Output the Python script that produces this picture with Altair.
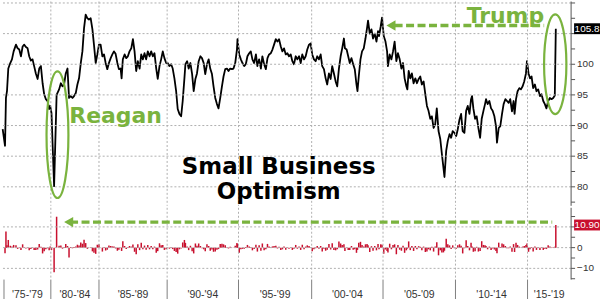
import altair as alt
import pandas as pd

# ---- data ----
dates = [
    1974.86, 1975.11, 1975.21, 1975.32, 1975.46, 1975.67, 1975.85, 1976.03, 1976.28, 1976.46,
    1976.63, 1976.81, 1976.99, 1977.16, 1977.34, 1977.52, 1977.69, 1977.87, 1978.05, 1978.22,
    1978.40, 1978.59, 1978.76, 1978.94, 1979.12, 1979.29, 1979.47, 1979.65, 1979.82, 1979.93,
    1980.07, 1980.34, 1980.60, 1980.86, 1981.04, 1981.21, 1981.38, 1981.55, 1981.73, 1981.89,
    1982.07, 1982.25, 1982.41, 1982.59, 1982.76, 1982.93, 1983.11, 1983.28, 1983.45, 1983.62,
    1983.80, 1983.96, 1984.14, 1984.32, 1984.48, 1984.66, 1984.83,
    1985.00, 1985.12, 1985.25, 1985.37, 1985.49, 1985.61, 1985.73, 1985.86, 1985.98, 1986.10,
    1986.22, 1986.35, 1986.46, 1986.59, 1986.66, 1986.75, 1986.88, 1987.00, 1987.12, 1987.24,
    1987.37, 1987.49, 1987.61, 1987.73, 1987.85, 1987.98, 1988.10, 1988.22, 1988.34, 1988.46,
    1988.58, 1988.71, 1988.83, 1988.95, 1989.07, 1989.20, 1989.31, 1989.44, 1989.56, 1989.68,
    1989.80, 1989.93,
    1990.04, 1990.16, 1990.28, 1990.39, 1990.51, 1990.63, 1990.74, 1990.86, 1990.98, 1991.09,
    1991.21, 1991.28, 1991.40, 1991.51, 1991.63, 1991.75, 1991.86, 1991.98, 1992.09, 1992.21,
    1992.33, 1992.44, 1992.56, 1992.67, 1992.79, 1992.91, 1993.02, 1993.14, 1993.25, 1993.37,
    1993.49, 1993.60, 1993.72, 1993.84, 1993.95, 1994.07, 1994.19, 1994.30, 1994.42, 1994.54,
    1994.65, 1994.77, 1994.89, 1994.93,
    1995.05, 1995.16, 1995.27, 1995.39, 1995.50, 1995.61, 1995.73, 1995.84, 1995.95, 1996.07,
    1996.19, 1996.29, 1996.41, 1996.53, 1996.63, 1996.75, 1996.87, 1996.98, 1997.09, 1997.21,
    1997.32, 1997.43, 1997.55, 1997.66, 1997.77, 1997.89, 1998.00, 1998.11, 1998.23, 1998.34,
    1998.45, 1998.57, 1998.68, 1998.79, 1998.91, 1999.02, 1999.14, 1999.25, 1999.36, 1999.48,
    1999.59, 1999.70, 1999.82, 1999.93,
    2000.04, 2000.16, 2000.28, 2000.39, 2000.51, 2000.63, 2000.74, 2000.86, 2000.98, 2001.09,
    2001.21, 2001.33, 2001.44, 2001.56, 2001.68, 2001.79, 2001.91, 2002.03, 2002.14, 2002.26,
    2002.33, 2002.45, 2002.56, 2002.67, 2002.79, 2002.91, 2003.02, 2003.14, 2003.21, 2003.30,
    2003.42, 2003.53, 2003.65, 2003.77, 2003.88, 2003.95, 2004.07, 2004.19, 2004.30, 2004.42,
    2004.54, 2004.65, 2004.72, 2004.84, 2004.93,
    2005.05, 2005.17, 2005.28, 2005.34, 2005.46, 2005.58, 2005.69, 2005.80, 2005.92, 2006.03,
    2006.15, 2006.27, 2006.38, 2006.49, 2006.61, 2006.68, 2006.77, 2006.88, 2006.99, 2007.11,
    2007.23, 2007.34, 2007.46, 2007.57, 2007.68, 2007.80, 2007.92, 2008.03, 2008.14, 2008.26,
    2008.37, 2008.49, 2008.60, 2008.71, 2008.83, 2008.95, 2009.06, 2009.17, 2009.24, 2009.36,
    2009.47, 2009.59, 2009.70, 2009.81, 2009.93,
    2010.05, 2010.16, 2010.28, 2010.39, 2010.50, 2010.62, 2010.74, 2010.85, 2010.97, 2011.08,
    2011.15, 2011.24, 2011.36, 2011.47, 2011.59, 2011.71, 2011.82, 2011.94, 2012.05, 2012.12,
    2012.23, 2012.35, 2012.47, 2012.58, 2012.70, 2012.81, 2012.88, 2013.00, 2013.11, 2013.23,
    2013.34, 2013.46, 2013.58, 2013.69, 2013.80, 2013.92, 2014.03, 2014.10, 2014.20, 2014.31,
    2014.43, 2014.54, 2014.66, 2014.77, 2014.89, 2014.96,
    2015.07, 2015.17, 2015.28, 2015.39, 2015.51, 2015.62, 2015.74, 2015.86, 2015.97, 2016.09,
    2016.20, 2016.31, 2016.43, 2016.55, 2016.66, 2016.78, 2016.89, 2016.96,
]
values = [
    89.4, 86.7, 94.5, 95.6, 99.3, 100.2, 100.8, 102.1, 103.2, 102.6,
    102.4, 101.3, 102.9, 103.2, 102.8, 102.6, 101.3, 100.6, 100.8, 99.7,
    98.5, 97.6, 99.3, 99.7, 96.9, 95.1, 94.3, 94.0, 92.7, 93.2,
    92.0, 80.1, 95.0, 95.9, 96.9, 96.4, 96.7, 98.5, 99.3, 94.5,
    94.8, 94.5, 94.8, 95.3, 96.7, 97.7, 100.2, 102.1, 105.9, 108.1,
    107.5, 107.3, 107.5, 105.7, 103.2, 100.2, 101.6,
    103.2, 103.2, 101.3, 101.6, 100.2, 99.2, 100.2, 101.0, 101.6, 102.1,
    101.7, 100.2, 99.2, 99.3, 97.7, 100.8, 101.6, 101.0, 101.3, 102.1,
    102.6, 104.1, 102.1, 98.9, 100.5, 99.3, 101.6, 100.8, 101.8, 100.8,
    102.1, 101.3, 102.1, 101.3, 101.8, 99.3, 97.6, 99.7, 100.8, 102.1,
    101.0, 100.2,
    100.2, 99.7, 100.0, 99.3, 97.7, 95.6, 92.7, 91.9, 91.5, 94.0,
    97.7, 100.0, 100.5, 99.3, 100.2, 98.4, 95.6, 97.6, 98.5, 100.5,
    101.3, 101.0, 100.2, 98.4, 100.0, 100.8, 99.3, 98.4, 96.4, 94.5,
    93.5, 92.8, 94.5, 96.4, 98.0, 99.2, 99.3, 98.9, 99.3, 99.2,
    99.3, 100.2, 102.4, 104.1,
    101.6, 100.8, 100.2, 99.7, 100.0, 101.3, 101.8, 102.1, 100.8, 100.2,
    101.6, 99.7, 100.8, 99.3, 101.3, 100.0, 99.2, 101.0, 101.6, 101.8,
    102.4, 103.2, 104.1, 103.7, 104.1, 102.9, 102.1, 102.6, 101.6, 101.8,
    101.3, 101.6, 100.5, 100.0, 101.3, 100.8, 101.3, 100.2, 101.6, 100.8,
    101.3, 102.4, 103.2, 103.4,
    101.6, 100.8, 100.5, 101.3, 100.8, 101.6, 99.7, 99.2, 97.7, 96.7,
    98.5, 97.6, 99.7, 98.5, 97.2, 96.4, 99.3, 101.3, 102.6, 104.2,
    102.6, 102.4, 101.3, 100.2, 101.0, 100.0, 99.2, 96.7, 95.6, 98.0,
    100.8, 102.1, 102.6, 104.2, 105.9, 107.1, 105.0, 105.7, 104.2, 105.0,
    103.7, 105.4, 104.6, 106.2, 107.6,
    104.6, 103.7, 102.1, 99.7, 101.6, 100.8, 102.1, 103.7, 100.5, 101.8,
    100.8, 99.3, 100.2, 97.7, 96.4, 95.9, 98.9, 97.7, 98.5, 96.9,
    97.7, 96.9, 97.6, 98.0, 96.7, 97.2, 95.1, 93.2, 92.4, 91.1,
    91.5, 89.6, 90.2, 92.8, 89.1, 87.8, 85.4, 83.1, 81.6, 85.9,
    87.5, 88.6, 88.0, 89.1, 88.8,
    88.3, 89.4, 91.0, 91.9, 89.1, 88.8, 92.4, 93.2, 91.9, 94.3,
    94.8, 92.8, 91.1, 91.5, 89.6, 88.0, 91.1, 92.4, 93.5, 94.3,
    93.5, 94.0, 92.8, 92.4, 91.5, 89.9, 87.2, 89.6, 89.9, 91.9,
    93.5, 94.3, 94.0, 93.7, 94.3, 92.3, 94.0, 91.9, 94.3, 95.6,
    96.1, 95.9, 96.4, 97.2, 98.5, 100.5,
    98.5, 97.7, 98.0, 96.1, 96.7, 95.6, 95.9, 94.8, 95.1, 94.0,
    93.5, 92.8, 94.0, 94.5, 94.3, 94.5, 94.9, 105.8,
]

period_edges = [1975, 1980, 1985, 1990, 1995, 2000, 2005, 2010, 2015]
grid_years = [1980, 1985, 1990, 1995, 2000, 2005, 2010, 2015]
period_labels = ["'75-'79", "'80-'84", "'85-'89", "'90-'94", "'95-'99",
                 "'00-'04", "'05-'09", "'10-'14", "'15-'19"]
label_years = [1977.5, 1982.5, 1987.5, 1992.5, 1997.5, 2002.5, 2007.5, 2012.5, 2016.5]
year_ticks = list(range(1975, 2019))
top_grid = [80, 85, 90, 95, 100, 105, 110]
top_ticks = [77.5, 80, 82.5, 85, 87.5, 90, 92.5, 95, 97.5, 100, 102.5, 105, 107.5, 110]
top_labels = [80, 85, 90, 95, 100]          # 105 sits under the 105.8 tag, 110 is off the top
bottom_grid = [-10, 0, 10]
bottom_ticks = [-15, -10, -5, 0, 5, 10, 15]
bottom_labels = [-10, 0]                    # 10 sits under the 10.90 tag

# ---- styles ----
GREEN = "#7ab33e"
RED = "#c8102e"
GRID = "#b0b0b0"
AXIS = "#555555"
W, HT, HB = 572, 205, 72

df = pd.DataFrame({"t": dates, "v": values})
df["chg"] = df["v"].diff()
chg_df = df.dropna()
last_df = df.tail(1)
last_chg = chg_df.tail(1)

xscale = alt.Scale(
    domain=[1974.68, 1975, 1980, 1985, 1990, 1995, 2000, 2005, 2010, 2015, 2018.02],
    range=[0, 3, 50, 98.3, 166.7, 238.3, 311.7, 383.3, 456, 528.3, 572],
    nice=False, zero=False,
)
ytop = alt.Scale(domain=[76.9, 110.24], nice=False, zero=False)
ybot = alt.Scale(domain=[-15.4, 19.2], nice=False, zero=False)


def XD(v):
    return alt.XDatum(v, type="quantitative", axis=None)


def YD(v):
    return alt.YDatum(v, type="quantitative", axis=None)


ell_r = "M 0,-1 A 0.173,1 0 1,1 0,1 A 0.173,1 0 1,1 0,-1 Z"
ell_t = "M 0,-1 A 0.224,1 0 1,1 0,1 A 0.224,1 0 1,1 0,-1 Z"
box = "M -1,-0.42 L 1,-0.42 L 1,0.42 L -1,0.42 Z"


def right_axis(ticks, labels, height):
    """domain line, ticks and labels of a right-hand value axis"""
    dom = alt.Chart().mark_rule(color=AXIS, strokeWidth=1).encode(
        x=alt.value(W), y=alt.value(0), y2=alt.value(height))
    tk = alt.Chart(pd.DataFrame({"y": ticks})).mark_rule(color=AXIS, strokeWidth=1).encode(
        x=alt.value(W), x2=alt.value(W + 4), y=alt.Y("y:Q", axis=None))
    lb = alt.Chart(pd.DataFrame({"y": labels})).mark_text(
        font="Liberation Sans", fontSize=10, color="#333333", align="left",
        baseline="middle").encode(
        x=alt.value(W + 6), y=alt.Y("y:Q", axis=None), text=alt.Text("y:Q", format="d"))
    return [dom, tk, lb]


# ---- top panel ----
line = alt.Chart(df).mark_line(color="black", strokeWidth=1.8, strokeJoin="round").encode(
    x=alt.X("t:Q", scale=xscale,
            axis=alt.Axis(labels=False, ticks=False, grid=False, domain=True,
                          domainColor="#8c8c8c", domainWidth=2, title=None)),
    y=alt.Y("v:Q", scale=ytop, axis=None),
)
hgrid_t = alt.Chart(pd.DataFrame({"y": top_grid})).mark_rule(
    color=GRID, strokeDash=[2, 2], strokeWidth=1).encode(y=alt.Y("y:Q", axis=None))
vgrid_t = alt.Chart(pd.DataFrame({"x": grid_years})).mark_rule(
    color=GRID, strokeDash=[2, 2], strokeWidth=1).encode(x=alt.X("x:Q", axis=None))

reagan_ell = alt.Chart().mark_point(shape=ell_r, size=16129, filled=False, stroke=GREEN,
                                    strokeWidth=2.2, opacity=1).encode(
    x=XD(1980.69), y=YD(88.5))
trump_ell = alt.Chart().mark_point(shape=ell_t, size=10000, filled=False, stroke=GREEN,
                                   strokeWidth=2.2, opacity=1).encode(
    x=XD(2016.92), y=YD(100.0))
reagan_txt = alt.Chart().mark_text(text="Reagan", font="DejaVu Sans", fontWeight="bold",
                                   fontSize=22, color=GREEN, align="center",
                                   baseline="alphabetic").encode(
    x=XD(1986.22), y=YD(90.46))
trump_txt = alt.Chart().mark_text(text="Trump", font="DejaVu Sans", fontWeight="bold",
                                  fontSize=22, color=GREEN, align="center",
                                  baseline="alphabetic").encode(
    x=XD(2013.46), y=YD(106.75))
title_txt = alt.Chart().mark_text(text=["Small Business", "Optimism"], font="DejaVu Sans",
                                  fontWeight="bold", fontSize=23, color="black",
                                  align="center", baseline="alphabetic", lineHeight=25).encode(
    x=XD(1997.75), y=YD(82.1))
arrow_t = alt.Chart().mark_rule(color=GREEN, strokeWidth=3.5, strokeDash=[8, 3.5]).encode(
    x=XD(2005.8), x2=alt.datum(2016.15), y=YD(106.34))
head_t = alt.Chart().mark_point(shape="triangle-left", size=110, filled=True,
                                color=GREEN, opacity=1).encode(
    x=XD(2005.55), y=YD(106.34))
box_t = alt.Chart(last_df).mark_point(shape=box, size=676, filled=True, color="black",
                                      opacity=1).encode(
    x=alt.value(588), y=alt.Y("v:Q", axis=None))
boxtxt_t = alt.Chart(last_df).mark_text(font="Liberation Sans", fontSize=10, color="white",
                                        align="center", baseline="middle").encode(
    x=alt.value(588), y=alt.Y("v:Q", axis=None), text=alt.Text("v:Q", format=".1f"))

top = alt.layer(line, hgrid_t, vgrid_t, *right_axis(top_ticks, top_labels, HT),
                reagan_ell, trump_ell, reagan_txt, trump_txt,
                title_txt, arrow_t, head_t, box_t, boxtxt_t).properties(width=W, height=HT)

# ---- bottom panel ----
bars = alt.Chart(chg_df).mark_rule(color=RED, strokeWidth=1.5).encode(
    x=alt.X("t:Q", scale=xscale,
            axis=alt.Axis(values=year_ticks, labels=False, ticks=True, tickSize=4,
                          tickColor=AXIS, domainColor=AXIS, grid=False, title=None)),
    y=alt.Y("chg:Q", scale=ybot, axis=None),
    y2=alt.datum(0),
)
hgrid_b = alt.Chart(pd.DataFrame({"y": bottom_grid})).mark_rule(
    color=GRID, strokeDash=[2, 2], strokeWidth=1).encode(y=alt.Y("y:Q", axis=None))
vgrid_b = alt.Chart(pd.DataFrame({"x": grid_years})).mark_rule(
    color=GRID, strokeDash=[2, 2], strokeWidth=1).encode(x=alt.X("x:Q", axis=None))
long_ticks = alt.Chart(pd.DataFrame({"x": period_edges})).mark_rule(
    color="#808080", strokeWidth=1).encode(
    x=alt.X("x:Q", axis=None), y=alt.value(HB), y2=alt.value(HB + 21))
labels = alt.Chart(pd.DataFrame({"x": label_years, "label": period_labels})).mark_text(
    font="Liberation Sans", fontSize=10.5, color="#333333", baseline="middle").encode(
    x=alt.X("x:Q", axis=None), y=alt.value(HB + 15), text="label:N")
arrow_b = alt.Chart().mark_rule(color=GREEN, strokeWidth=3.5, strokeDash=[8, 3.5]).encode(
    x=XD(1982.0), x2=alt.datum(2016.71), y=YD(12.3))
head_b = alt.Chart().mark_point(shape="triangle-left", size=110, filled=True,
                                color=GREEN, opacity=1).encode(
    x=XD(1981.85), y=YD(12.3))
box_b = alt.Chart(last_chg).mark_point(shape=box, size=676, filled=True, color=RED,
                                       opacity=1).encode(
    x=alt.value(588), y=alt.Y("chg:Q", axis=None))
boxtxt_b = alt.Chart(last_chg).mark_text(font="Liberation Sans", fontSize=10, color="white",
                                         align="center", baseline="middle").encode(
    x=alt.value(588), y=alt.Y("chg:Q", axis=None), text=alt.Text("chg:Q", format=".2f"))

bottom = alt.layer(bars, hgrid_b, vgrid_b, *right_axis(bottom_ticks, bottom_labels, HB),
                   long_ticks, labels, arrow_b, head_b,
                   box_b, boxtxt_b).properties(width=W, height=HB)

chart = alt.vconcat(top, bottom, spacing=0).properties(
    padding=0, background="white"
).configure_view(stroke=None)

chart.save("out.html", embed_options={"renderer": "svg", "actions": False})
